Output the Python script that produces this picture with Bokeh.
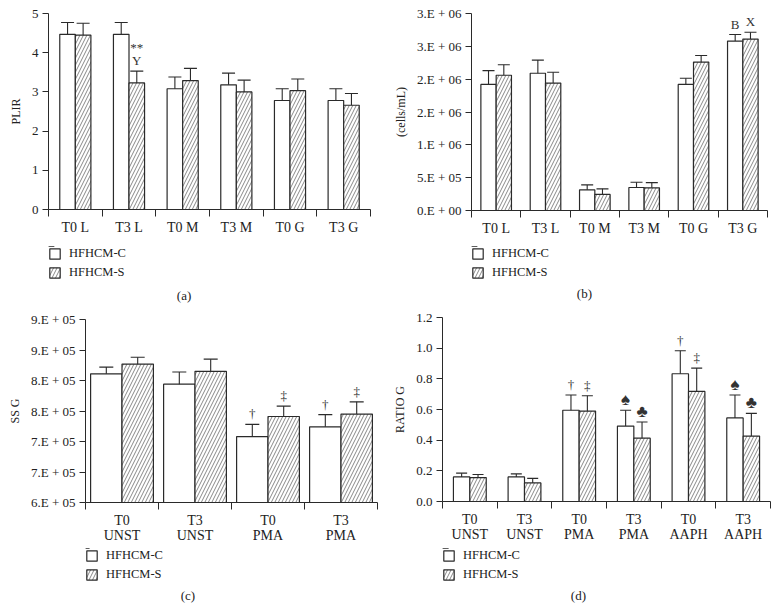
from bokeh.plotting import figure
from bokeh.models import (ColumnDataSource, Range1d, LinearAxis, FixedTicker, Whisker, TeeHead,
                          Legend, LegendItem, Label)
from bokeh.layouts import column, row
from bokeh.core.properties import value
from bokeh.embed import file_html
from bokeh.resources import INLINE

SERIES = ["HFHCM-C", "HFHCM-S"]

# ---- panel (a)
A_CATS = ["T0 L", "T3 L", "T0 M", "T3 M", "T0 G", "T3 G"]
A_C = [4.47, 4.47, 3.08, 3.18, 2.78, 2.78]
A_C_ERR = [0.30, 0.30, 0.30, 0.30, 0.30, 0.30]
A_S = [4.45, 3.23, 3.29, 3.00, 3.03, 2.66]
A_S_ERR = [0.30, 0.30, 0.31, 0.30, 0.30, 0.30]
A_TICKS = [0, 1, 2, 3, 4, 5]
A_TICK_LABELS = ["0", "1", "2", "3", "4", "5"]
A_NOTES = [("T3 L", 1, "Y"), ("T3 L", 1, "**")]

# ---- panel (b)
B_CATS = ["T0 L", "T3 L", "T0 M", "T3 M", "T0 G", "T3 G"]
B_C = [1.92e6, 2.09e6, 0.315e6, 0.35e6, 1.92e6, 2.58e6]
B_C_ERR = [0.21e6, 0.20e6, 0.075e6, 0.08e6, 0.095e6, 0.10e6]
B_S = [2.06e6, 1.94e6, 0.245e6, 0.345e6, 2.26e6, 2.61e6]
B_S_ERR = [0.16e6, 0.165e6, 0.085e6, 0.08e6, 0.10e6, 0.105e6]
B_TICKS = [0, 500000, 1000000, 1500000, 2000000, 2500000, 3000000]
B_TICK_LABELS = ["0.E + 00", "5.E + 05", "1.E + 06", "2.E + 06", "2.E + 06", "3.E + 06", "3.E + 06"]
B_NOTES = [("T3 G", 0, "B"), ("T3 G", 1, "X")]

# ---- panel (c)
C_CATS = ["T0\nUNST", "T3\nUNST", "T0\nPMA", "T3\nPMA"]
C_C = [8.11e5, 7.94e5, 7.08e5, 7.24e5]
C_C_ERR = [0.11e5, 0.20e5, 0.20e5, 0.20e5]
C_S = [8.27e5, 8.15e5, 7.41e5, 7.45e5]
C_S_ERR = [0.11e5, 0.20e5, 0.17e5, 0.20e5]
C_TICKS = [600000, 650000, 700000, 750000, 800000, 850000, 900000]
C_TICK_LABELS = ["6.E + 05", "7.E + 05", "7.E + 05", "8.E + 05", "8.E + 05", "9.E + 05", "9.E + 05"]
C_NOTES = [("T0\nPMA", 0, "†"), ("T0\nPMA", 1, "‡"), ("T3\nPMA", 0, "†"), ("T3\nPMA", 1, "‡")]

# ---- panel (d)
D_CATS = ["T0\nUNST", "T3\nUNST", "T0\nPMA", "T3\nPMA", "T0\nAAPH", "T3\nAAPH"]
D_C = [0.16, 0.16, 0.595, 0.492, 0.833, 0.545]
D_C_ERR = [0.025, 0.02, 0.10, 0.103, 0.15, 0.15]
D_S = [0.156, 0.121, 0.59, 0.413, 0.718, 0.427]
D_S_ERR = [0.02, 0.03, 0.10, 0.105, 0.152, 0.148]
D_TICKS = [0.0, 0.2, 0.4, 0.6, 0.8, 1.0, 1.2]
D_TICK_LABELS = ["0.0", "0.2", "0.4", "0.6", "0.8", "1.0", "1.2"]
D_NOTES = [("T0\nPMA", 0, "†"), ("T0\nPMA", 1, "‡"), ("T3\nPMA", 0, "♠"), ("T3\nPMA", 1, "♣"),
           ("T0\nAAPH", 0, "†"), ("T0\nAAPH", 1, "‡"), ("T3\nAAPH", 0, "♠"), ("T3\nAAPH", 1, "♣")]

FONT = "Liberation Serif"
INK = "#2a2a2a"
TXT = "#222222"
BAR_STYLE = dict(fill_color="white", line_color=INK, line_width=1.2)
HATCH_STYLE = dict(hatch_pattern="/", hatch_color="#555555", hatch_weight=0.7, hatch_scale=7)


def legend_fig(W, H, left, spacing, caption, cap_x, cap_y, cv, sv, ymin):
    # a strip below each panel holding its key and caption; its y range sits
    # below the data, so the key's bar renderers stay out of view
    q = figure(width=W, height=H, x_range=Range1d(0, W - left), y_range=Range1d(-H - 3, -3),
               x_axis_location=None, y_axis_location=None, output_backend="svg",
               toolbar_location=None, min_border_left=left, min_border_right=0,
               min_border_top=0, min_border_bottom=0)
    q.xgrid.visible = False
    q.ygrid.visible = False
    q.outline_line_color = None
    n = len(cv)
    src = ColumnDataSource(dict(x=[i + 0.5 for i in range(n)], c=cv, s=sv))
    gc = q.vbar(x="x", top="c", bottom=ymin, width=0.3, source=src, **BAR_STYLE)
    gs = q.vbar(x="x", top="s", bottom=ymin, width=0.3, source=src, **BAR_STYLE, **HATCH_STYLE)
    lg = Legend(items=[LegendItem(label=SERIES[0], renderers=[gc]),
                       LegendItem(label=SERIES[1], renderers=[gs])],
                location="top_left", orientation="vertical", padding=0, margin=0,
                spacing=spacing, glyph_width=13, glyph_height=13, label_height=13,
                label_standoff=8, border_line_color=None, background_fill_alpha=0,
                label_text_font=FONT, label_text_font_size="12.5px", label_text_color=TXT,
                label_text_baseline="middle")
    q.add_layout(lg)
    q.add_layout(Label(x=cap_x, y=cap_y - H - 3, text=caption, text_align="center",
                       text_baseline="middle", text_font=FONT, text_font_size="13px",
                       text_color=TXT))
    return q


def panel(cats, cv, ce, sv, se, ticks, tick_labels, ylabel, notes,
          W, H, borders, bar_w, cap):
    left, right, top, bottom = borders
    ymin, ymax = ticks[0], ticks[-1]
    n = len(cats)
    p = figure(width=W, height=H, x_range=Range1d(0, n), y_range=Range1d(ymin, ymax),
               x_axis_location=None, output_backend="svg", toolbar_location=None,
               min_border_left=left, min_border_right=right, min_border_top=top,
               min_border_bottom=bottom)
    p.xgrid.visible = False
    p.ygrid.visible = False
    p.outline_line_color = None

    centers = [i + 0.5 for i in range(n)]
    off = bar_w / 2.0
    src = ColumnDataSource(dict(
        xc=[c - off for c in centers], xs=[c + off for c in centers], c=cv, s=sv,
        c_lo=[v - e for v, e in zip(cv, ce)], c_hi=[v + e for v, e in zip(cv, ce)],
        s_lo=[v - e for v, e in zip(sv, se)], s_hi=[v + e for v, e in zip(sv, se)]))
    p.vbar(x="xc", top="c", bottom=ymin, width=bar_w, source=src, **BAR_STYLE)
    p.vbar(x="xs", top="s", bottom=ymin, width=bar_w, source=src, **BAR_STYLE, **HATCH_STYLE)
    for key in ("c", "s"):
        p.add_layout(Whisker(base="x" + key, upper=key + "_hi",
                             lower=key + "_lo", source=src, line_color=INK, line_width=1.1,
                             upper_head=TeeHead(size=cap, line_color=INK, line_width=1.1),
                             lower_head=TeeHead(size=cap, line_color=INK, line_width=1.1)))

    # annotations above error bars
    nx, ny, nt, noff, nsz = [], [], [], [], []
    stack = {}
    for cat, ser, txt in notes:
        i = cats.index(cat)
        k = (ser, i)
        m = stack.get(k, 0)
        stack[k] = m + 1
        nx.append(centers[i] + (off if ser else -off))
        ny.append((sv[i] + se[i]) if ser else (cv[i] + ce[i]))
        nt.append(txt)
        big = txt in ("♠", "♣")
        noff.append(-1 if big else -(3 + 13 * m))
        nsz.append("17px" if big else "13px")
    if nx:
        nsrc = ColumnDataSource(dict(x=nx, y=ny, t=nt, yo=noff, fs=nsz))
        p.text(x="x", y="y", text="t", y_offset="yo", source=nsrc,
               text_align="center", text_baseline="bottom",
               text_font=value(FONT), text_font_size="fs", text_color="#333333")

    # y axis
    ya = p.yaxis[0]
    ya.ticker = FixedTicker(ticks=ticks)
    ya.major_label_overrides = dict(zip(ticks, tick_labels))
    ya.axis_label = ylabel
    ya.axis_label_text_font = FONT
    ya.axis_label_text_font_style = "normal"
    ya.axis_label_text_font_size = "12px"
    ya.axis_label_text_color = TXT
    ya.axis_label_standoff = 6
    ya.major_label_text_font = FONT
    ya.major_label_text_font_size = "13px"
    ya.major_label_text_color = TXT
    ya.major_label_standoff = 4
    ya.minor_tick_line_color = None
    ya.major_tick_in = 0
    ya.major_tick_out = 6
    ya.axis_line_color = INK
    ya.major_tick_line_color = INK

    # x axis: boundary ticks (minor) and category labels at centers
    xa = LinearAxis(ticker=FixedTicker(ticks=centers, minor_ticks=list(range(n + 1))),
                    major_label_overrides=dict(zip(centers, cats)),
                    axis_line_color=INK, major_tick_line_color=None, major_tick_out=7,
                    major_tick_in=0, minor_tick_line_color=INK, minor_tick_out=7,
                    minor_tick_in=0, major_label_standoff=3,
                    major_label_text_font=FONT, major_label_text_font_size="14px",
                    major_label_text_line_height=1.0,
                    major_label_text_color=TXT)
    p.add_layout(xa, "below")
    return p


pa = panel(A_CATS, A_C, A_C_ERR, A_S, A_S_ERR, A_TICKS, A_TICK_LABELS, "PLIR", A_NOTES,
           390, 246, (48, 20, 13, 37), 0.29, 13)
pb = panel(B_CATS, B_C, B_C_ERR, B_S, B_S_ERR, B_TICKS, B_TICK_LABELS, "(cells/mL)", B_NOTES,
           385, 246, (73, 8, 13, 36), 0.31, 12)
pc = panel(C_CATS, C_C, C_C_ERR, C_S, C_S_ERR, C_TICKS, C_TICK_LABELS, "SS G", C_NOTES,
           390, 244, (85, 13, 15, 46), 0.43, 14)
pd = panel(D_CATS, D_C, D_C_ERR, D_S, D_S_ERR, D_TICKS, D_TICK_LABELS, "RATIO G", D_NOTES,
           385, 244, (52, 5, 13, 47), 0.30, 11)

la = legend_fig(390, 58, 48, 4, "(a)", 144, 9, A_C, A_S, A_TICKS[0])
lb = legend_fig(385, 58, 73, 4, "(b)", 119, 11, B_C, B_S, B_TICKS[0])
lc = legend_fig(390, 62, 85, 4, "(c)", 107, 15, C_C, C_S, C_TICKS[0])
ld = legend_fig(385, 62, 52, 4, "(d)", 138, 15, D_C, D_S, D_TICKS[0])

layout = column(row(column(pa, la), column(pb, lb)), row(column(pc, lc), column(pd, ld)))
open("out.html", "w").write(file_html(layout, INLINE))
